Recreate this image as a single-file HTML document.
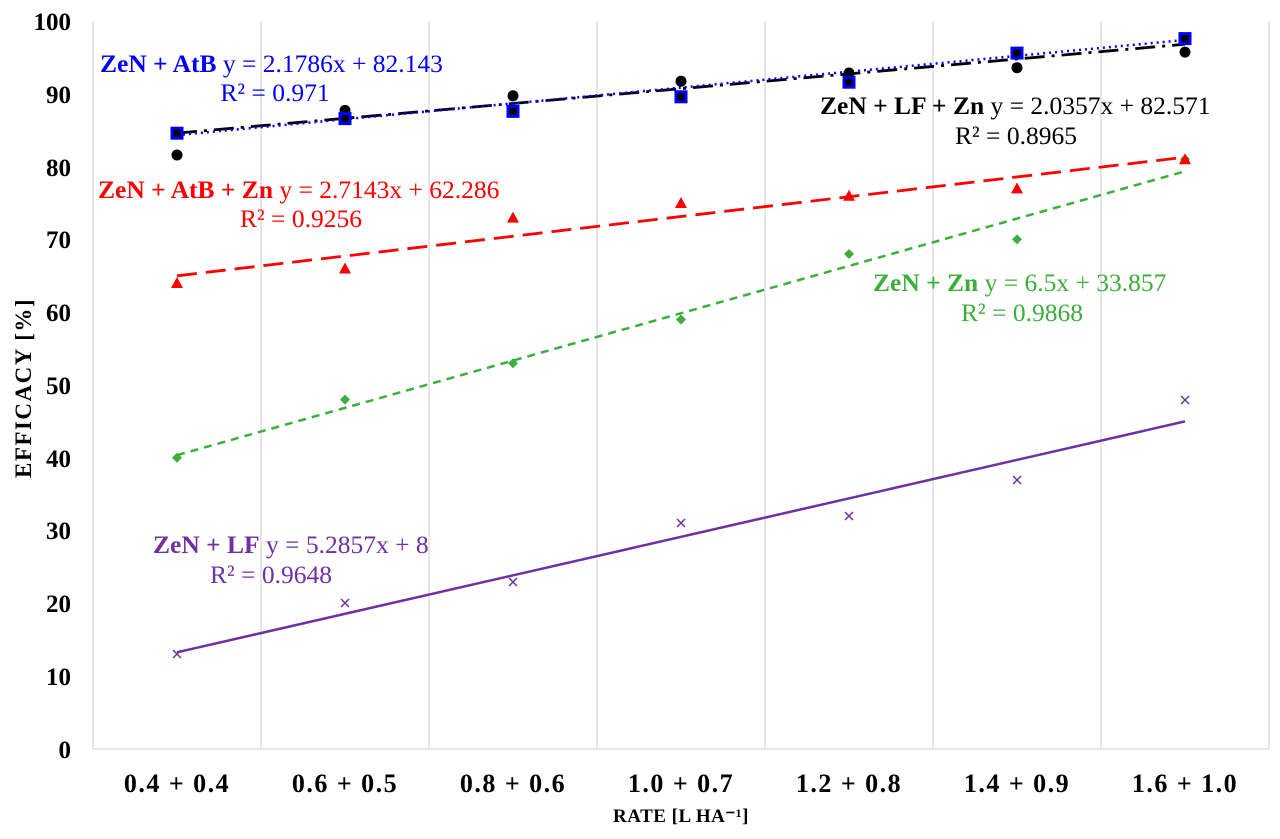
<!DOCTYPE html><html><head><style>body{margin:0;background:#fff}svg{display:block;font-family:"Liberation Serif",serif}</style></head><body>
<svg width="1280" height="839" viewBox="0 0 1280 839">
<g stroke="#d9d9d9" stroke-width="1.3">
<line x1="93" y1="21" x2="93" y2="749"/><line x1="261" y1="21" x2="261" y2="749"/><line x1="429" y1="21" x2="429" y2="749"/><line x1="597" y1="21" x2="597" y2="749"/><line x1="765" y1="21" x2="765" y2="749"/><line x1="933" y1="21" x2="933" y2="749"/><line x1="1101" y1="21" x2="1101" y2="749"/><line x1="1269" y1="21" x2="1269" y2="749"/>
<line x1="93" y1="749" x2="1269" y2="749"/>
</g>
<g font-weight="bold" font-size="25" text-anchor="end" fill="#000">
<text x="71" y="758">0</text><text x="71" y="685">10</text><text x="71" y="612">20</text><text x="71" y="539">30</text><text x="71" y="467">40</text><text x="71" y="394">50</text><text x="71" y="321">60</text><text x="71" y="248">70</text><text x="71" y="176">80</text><text x="71" y="103">90</text><text x="71" y="30">100</text>
</g>
<g font-weight="bold" font-size="26" text-anchor="middle" letter-spacing="1.5">
<text x="177" y="792">0.4 + 0.4</text><text x="345" y="792">0.6 + 0.5</text><text x="513" y="792">0.8 + 0.6</text><text x="681" y="792">1.0 + 0.7</text><text x="849" y="792">1.2 + 0.8</text><text x="1017" y="792">1.4 + 0.9</text><text x="1185" y="792">1.6 + 1.0</text>
</g>
<text x="681" y="822" font-weight="bold" font-size="19" text-anchor="middle" letter-spacing="0.5">RATE [L HA⁻¹]</text>
<text transform="translate(31,388) rotate(-90)" font-weight="bold" font-size="23" text-anchor="middle" letter-spacing="1.5">EFFICACY [%]</text>
<line x1="177" y1="652.3" x2="1185" y2="421.4" stroke="#7030a0" stroke-width="2.5"/>
<line x1="177" y1="455.2" x2="1185" y2="171.3" stroke="#3cae3c" stroke-width="2.5" stroke-dasharray="8,6"/>
<line x1="177" y1="275.8" x2="1185" y2="157.2" stroke="#ff0000" stroke-width="2.8" stroke-dasharray="20,9"/>
<line x1="177" y1="133.1" x2="1185" y2="44.2" stroke="#000" stroke-width="2.8" stroke-dasharray="20,7,3,7"/>
<line x1="177" y1="135.1" x2="1185" y2="40" stroke="#0000ff" stroke-width="2.5" stroke-dasharray="2,4"/>
<g stroke="#7030a0" stroke-width="1.5">
<path d="M173 650l8 8M181 650l-8 8M341 599l8 8M349 599l-8 8M509 578l8 8M517 578l-8 8M677 519l8 8M685 519l-8 8M845 512l8 8M853 512l-8 8M1013 476l8 8M1021 476l-8 8M1181 396l8 8M1189 396l-8 8"/>
</g>
<g fill="#3cae3c">
<path d="M177 452.8l5 5-5 5-5-5z"/><path d="M345 394.6l5 5-5 5-5-5z"/><path d="M513 358.2l5 5-5 5-5-5z"/><path d="M681 314.5l5 5-5 5-5-5z"/><path d="M849 249l5 5-5 5-5-5z"/><path d="M1017 234.4l5 5-5 5-5-5z"/><path d="M1185 154.3l5 5-5 5-5-5z"/>
</g>
<g fill="#ff0000">
<path d="M177 277l6 11h-12z"/><path d="M345 262.5l6 11h-12z"/><path d="M513 211.6l6 11h-12z"/><path d="M681 197l6 11h-12z"/><path d="M849 189.7l6 11h-12z"/><path d="M1017 182.4l6 11h-12z"/><path d="M1185 153.3l6 11h-12z"/>
</g>
<g fill="#000">
<circle cx="177" cy="155" r="5.5"/><circle cx="345" cy="110.4" r="5.5"/><circle cx="513" cy="95.8" r="5.5"/><circle cx="681" cy="81.2" r="5.5"/><circle cx="849" cy="73" r="5.5"/><circle cx="1017" cy="67.7" r="5.5"/><circle cx="1185" cy="52.1" r="5.5"/>
</g>
<g fill="#000" stroke="#0000ff" stroke-width="3">
<rect x="172" y="128.2" width="10" height="10"/><rect x="340" y="113.6" width="10" height="10"/><rect x="508" y="106.4" width="10" height="10"/><rect x="676" y="91.8" width="10" height="10"/><rect x="844" y="77.2" width="10" height="10"/><rect x="1012" y="48.1" width="10" height="10"/><rect x="1180" y="33.6" width="10" height="10"/>
</g>
<g font-size="25.5">
<text x="100" y="72" fill="#0000ff"><tspan font-weight="bold">ZeN + AtB</tspan> y = 2.1786x + 82.143</text>
<text x="275" y="101" fill="#0000ff" text-anchor="middle">R² = 0.971</text>
<text x="98" y="198" fill="#ff0000"><tspan font-weight="bold">ZeN + AtB + Zn</tspan> y = 2.7143x + 62.286</text>
<text x="301" y="227" fill="#ff0000" text-anchor="middle">R² = 0.9256</text>
<text x="820" y="114" fill="#000"><tspan font-weight="bold">ZeN + LF + Zn</tspan> y = 2.0357x + 82.571</text>
<text x="1016" y="144" fill="#000" text-anchor="middle">R² = 0.8965</text>
<text x="873" y="291" fill="#3cae3c"><tspan font-weight="bold">ZeN + Zn</tspan> y = 6.5x + 33.857</text>
<text x="1022" y="321" fill="#3cae3c" text-anchor="middle">R² = 0.9868</text>
<text x="153" y="553" fill="#7030a0"><tspan font-weight="bold">ZeN + LF</tspan> y = 5.2857x + 8</text>
<text x="271" y="583" fill="#7030a0" text-anchor="middle">R² = 0.9648</text>
</g>
</svg></body></html>
